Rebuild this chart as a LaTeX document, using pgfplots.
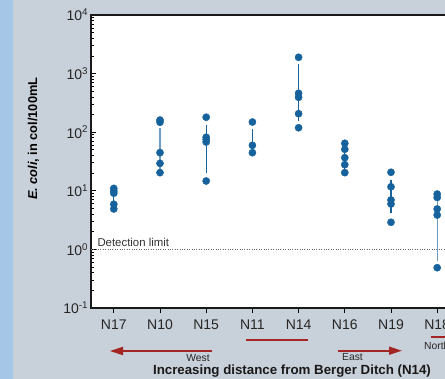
\documentclass[border=0pt]{standalone}
\usepackage{pgfplots}
\pgfplotsset{compat=1.18}
\usepackage{fontspec}
\setmainfont{Liberation Sans}
\usetikzlibrary{arrows.meta}
\definecolor{bggray}{RGB}{200,208,218}
\definecolor{stripblue}{RGB}{165,198,230}
\definecolor{mblue}{RGB}{22,98,156}
\definecolor{lblue}{RGB}{110,158,198}
\definecolor{dred}{RGB}{163,38,36}
\begin{document}
\begin{tikzpicture}[x=1pt,y=1pt]
\begin{scope}
\clip (0,0) rectangle (445,379);
\fill[bggray] (0,0) rectangle (445,379);
\fill[stripblue] (0,0) rectangle (13,379);
\begin{axis}[
  at={(90.7pt,71pt)}, anchor=south west,
  scale only axis, width=415.8pt, height=293pt,
  axis background/.style={fill=white},
  xmin=0.5, xmax=9.5,
  ymode=log, ymin=0.1, ymax=10000,
  axis line style={line width=1.6pt, black!90},
  xtick={1,2,3,4,5,6,7,8},
  xticklabels={N17,N10,N15,N11,N14,N16,N19,N18},
  xtick pos=lower, xtick align=outside,
  ytick pos=left, ytick align=inside,
  ytick={0.1,1,10,100,1000,10000},
  yticklabels={10\textsuperscript{-1},10\textsuperscript{0},10\textsuperscript{1},10\textsuperscript{2},10\textsuperscript{3},10\textsuperscript{4}},
  major tick length=5pt, minor tick length=3pt,
  every tick/.style={black, line width=0.8pt},
  tick label style={font=\fontsize{14}{16}\selectfont, black!85},
  xticklabel style={yshift=-3pt},
  yticklabel style={xshift=1pt},
  clip=false,
]
% detection limit
\addplot[black!60, line width=0.6pt, dash pattern=on 0.8pt off 1.6pt] coordinates {(0.5,1) (9.5,1)};
% range lines
\addplot[mblue, line width=1.1pt] coordinates {(1,5) (1,11)};
\addplot[lblue, line width=1.1pt] coordinates {(2,20.4) (2,119)};
\addplot[mblue, line width=1.1pt] coordinates {(3,19.9) (3,133)};
\addplot[mblue, line width=1.1pt] coordinates {(4,45) (4,112)};
\addplot[mblue, line width=1.1pt] coordinates {(5,155) (5,1459)};
\addplot[mblue, line width=1.1pt] coordinates {(6,20.4) (6,64.7)};
\addplot[mblue, line width=1.1pt] coordinates {(7,4.13) (7,15.3)};
\addplot[lblue, line width=1.1pt] coordinates {(8,0.64) (8,8.8)};
% points
\addplot[only marks, mark=*, mark size=3.6pt, mblue, mark options={draw=mblue, fill=mblue}] coordinates {
 (1,11.0) (1,9.9) (1,9.1) (1,5.9) (1,4.9)
 (2,161) (2,148) (2,44.7) (2,29.4) (2,20.4)
 (3,180) (3,82) (3,75) (3,68) (3,14.7)
 (4,149) (4,59.7) (4,44.7)
 (5,1898) (5,461) (5,394) (5,207) (5,119)
 (6,64.7) (6,51.1) (6,36.7) (6,27.9) (6,20.4)
 (7,20.7) (7,11.7) (7,6.97) (7,5.96) (7,2.9)
 (8,8.8) (8,7.7) (8,4.9) (8,3.86) (8,0.487)
};
\end{axis}
\node[anchor=west, inner sep=0pt, font=\fontsize{11.4}{13}\selectfont, black!80] at (97.3,136.7) {Detection limit};
\node[rotate=90, inner sep=0pt, font=\fontsize{12.8}{15}\selectfont\bfseries] at (33.5,240.2) {\textit{E. coli}, in col/100mL};
% arrows
\draw[dred, line width=1.8pt, -{Triangle[length=13pt,width=8pt]}] (212,28) -- (110,28);
\draw[dred, line width=1.8pt] (246,39) -- (308,39);
\draw[dred, line width=1.8pt, -{Triangle[length=13pt,width=8pt]}] (338,28.3) -- (402,28.3);
\draw[dred, line width=1.8pt] (430.7,42) -- (450,42);
\node[inner sep=0pt, font=\fontsize{10.3}{12}\selectfont, black!85] at (198,21) {West};
\node[inner sep=0pt, font=\fontsize{10.3}{12}\selectfont, black!85] at (352.5,22.3) {East};
\node[anchor=west, inner sep=0pt, font=\fontsize{10.3}{12}\selectfont, black!85] at (424,33) {North};
\node[inner sep=0pt, font=\fontsize{13.3}{15}\selectfont\bfseries, black!90] at (292,8) {Increasing distance from Berger Ditch (N14)};
\end{scope}
\pgfresetboundingbox
\useasboundingbox (0,0) rectangle (445,379);
\end{tikzpicture}
\end{document}
